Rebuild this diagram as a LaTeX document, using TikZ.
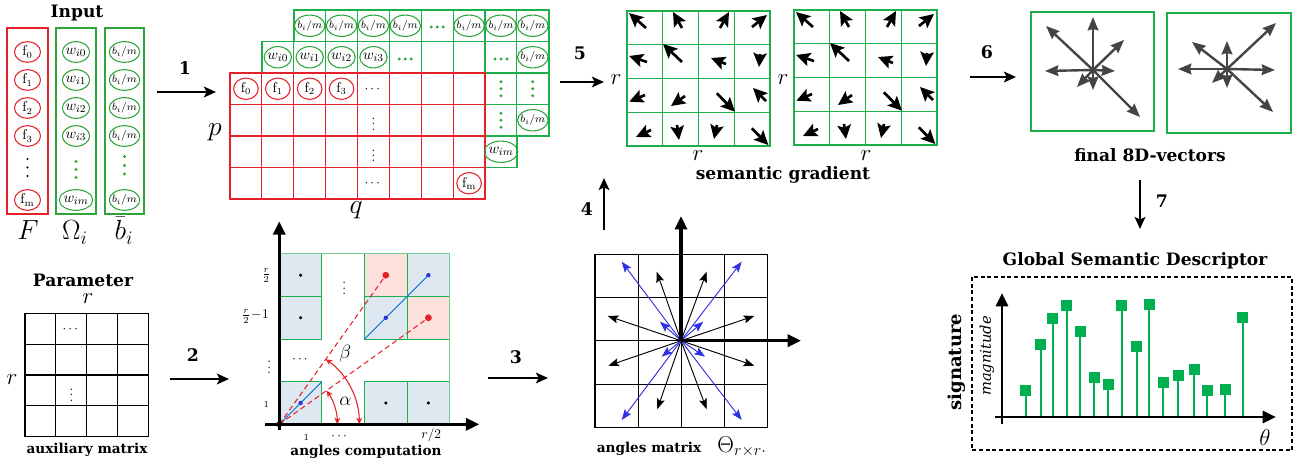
\documentclass[tikz,border=0pt]{standalone}
\usepackage{fontspec}
\usepackage{amsmath}
\usetikzlibrary{arrows.meta,shapes.geometric}
\newfontfamily\lblf{DejaVu Serif}
\definecolor{myred}{HTML}{E52129}
\definecolor{ingreen}{HTML}{2DA53A}
\definecolor{ggreen}{HTML}{1DAF4B}
\definecolor{sgreen}{HTML}{00B050}
\definecolor{lblue}{HTML}{DEE8F1}
\definecolor{lpink}{HTML}{FCE1DD}
\definecolor{dgray}{HTML}{444444}
\definecolor{vblue}{HTML}{3030E0}
\definecolor{lnblue}{HTML}{1F7BD6}
\newcommand\bim{$b_i/m$}
\tikzset{
 lab/.style={font=\lblf\bfseries\fontsize{12.8}{14}\selectfont, inner sep=0pt},
 slab/.style={font=\lblf\bfseries\fontsize{10.2}{11}\selectfont, inner sep=0pt},
 num/.style={font=\lblf\bfseries\fontsize{13}{15}\selectfont, inner sep=0pt},
 flow/.style={line width=1.8pt, -{Stealth[length=9pt,width=8pt,inset=2pt]}},
 rc/.style={ellipse, draw=myred, line width=0.8pt, minimum width=19.5pt, minimum height=15.5pt, inner sep=0pt, font=\fontsize{10.5}{12}\selectfont},
 gc/.style={ellipse, draw=ingreen, line width=0.8pt, minimum width=19.5pt, minimum height=15.5pt, inner sep=-0.5pt, font=\fontsize{11}{12}\selectfont},
 bc/.style={gc, inner sep=-1.2pt, font=\fontsize{8}{9}\selectfont},
 rcs/.style={rc, minimum width=18.5pt, minimum height=16pt},
 gcs/.style={gc, minimum width=18.5pt, minimum height=16pt},
 bcs/.style={bc, minimum width=18.5pt, minimum height=16pt},
 dts/.style={inner sep=0pt},
 gdot/.style={fill=ingreen},
 sga/.style={line width=2pt, -{Stealth[length=10.5pt,width=10pt,inset=2pt]}},
 vec/.style={dgray, line width=1.8pt, -{Stealth[length=10pt,width=8pt,inset=1pt]}},
 thin/.style={line width=0.7pt, -{Stealth[length=8pt,width=6pt,inset=1.5pt]}},
 axis/.style={line width=2.2pt, -{Triangle[length=10pt,width=9pt]}},
 big/.style={font=\fontsize{20}{24}\selectfont, inner sep=0pt},
 mid/.style={font=\fontsize{17}{20}\selectfont, inner sep=0pt},
}
\begin{document}
\begin{tikzpicture}[x=0.75pt,y=-0.75pt]
\useasboundingbox (0,0) rectangle (1298,466);

%% ---------------- INPUT
\node[lab] (tinput) at (77,13) {Input};
\draw[myred, line width=1.1pt] (7,28) rectangle (48,214);
\draw[ingreen, line width=1.1pt] (56,28) rectangle (96,214);
\draw[ingreen, line width=1.1pt] (105,28) rectangle (144,214);
\foreach \yy/\t/\n in {52/0/0,80/1/1,108/2/2,136/3/3,200/{\mathrm{m}}/m}{
  \node[rc] (F\n) at (27.5,\yy) {$\mathrm{f}_{\t}$};
  \node[gc] (W\n) at (76,\yy) {$w_{i\n}$};
  \node[bc] (B\n) at (124.5,\yy) {\bim};
}
\foreach \yy in {159,167.5,176} \fill (27.5,\yy) circle (1.1);
\foreach \yy in {161.5,169.5,177.5} \fill[gdot] (76,\yy) circle (1.7);
\foreach \yy in {156.5,165.5,174} \fill[gdot] (124.5,\yy) circle (1.7);
\node[big, anchor=base] (lF) at (28,240) {$F$};
\node[big, anchor=base] (lO) at (75,240) {$\Omega_i$};
\node[big, anchor=base] (lB) at (124,240) {$\bar{b}_i$};

%% arrow 1
\coordinate (a1s) at (157,92); \coordinate (a1e) at (216,92);
\draw[flow] (a1s) -- (a1e);
\node[num] (n1) at (185,68) {1};

%% ---------------- BIG MATRIX
\foreach \cc in {2,...,9} \draw[ggreen, line width=0.8pt] ({230+31.875*\cc},10) rectangle ++(31.875,31.5);
\foreach \cc in {1,...,9} \draw[ggreen, line width=0.8pt] ({230+31.875*\cc},41.5) rectangle ++(31.875,31.5);
\foreach \cc/\rr in {8/2,9/2,8/3,9/3,8/4} \draw[ggreen, line width=0.8pt] ({230+31.875*\cc},{10+31.5*\rr}) rectangle ++(31.875,31.5);
\draw[ggreen, line width=1.4pt] (293.75,10) -- (548.75,10) -- (548.75,136) -- (516.875,136) -- (516.875,167.5) -- (485,167.5) -- (485,73) -- (261.875,73) -- (261.875,41.5) -- (293.75,41.5) -- cycle;
\foreach \cc in {1,...,7} \draw[myred, line width=0.8pt] ({230+31.875*\cc},73) -- ++(0,126);
\foreach \rr in {3,4,5} \draw[myred, line width=0.8pt] (230,{10+31.5*\rr}) -- ++(255,0);
\draw[myred, line width=1.4pt] (230,73) rectangle (485,199);
% row 0
\foreach \cc in {2,3,4,5,7,8,9} \node[bcs] (M\cc-0) at ({230+31.875*(\cc+0.5)},25.75) {\bim};
\foreach \dx in {-6,0,6} \fill[gdot] ({437.2+\dx},27) circle (1.6);
% row 1
\foreach \cc/\kk in {1/0,2/1,3/2,4/3} \node[gcs] (M\cc-1) at ({230+31.875*(\cc+0.5)},57.25) {$w_{i\kk}$};
\foreach \dx in {-6,0,6} {\fill[gdot] ({405.3+\dx},59) circle (1.6); \fill[gdot] ({501+\dx},59) circle (1.6);}
\node[bcs] (M9-1) at (532.8,57.25) {\bim};
% row 2
\foreach \cc in {0,...,3} \node[rcs] (M\cc-2) at ({230+31.875*(\cc+0.5)},88.75) {$\mathrm{f}_{\cc}$};
\node[dts] (M4-2) at (373.4,90) {$\cdots$};
\foreach \dy in {-7,0,7} {\fill[gdot] (501,{88.75+\dy}) circle (1.6); \fill[gdot] (532.8,{88.75+\dy}) circle (1.6);}
% row 3
\node[dts] (M4-3) at (373.4,120.25) {$\vdots$};
\foreach \dy in {-7,0,7} \fill[gdot] (501,{120.25+\dy}) circle (1.6);
\node[bcs] (M9-3) at (532.8,120.25) {\bim};
% row 4
\node[dts] (M4-4) at (373.4,151.75) {$\vdots$};
\node[gcs] (M8-4) at (501,151.75) {$w_{im}$};
% row 5
\node[dts] (M4-5) at (373.4,184) {$\cdots$};
\node[rcs] (M7-5) at (469.1,183.25) {$\mathrm{f}_{\mathrm{m}}$};
\node[big, font=\fontsize{22}{24}\selectfont, anchor=base] (lp) at (215,136) {$p$};
\node[big, font=\fontsize{22}{24}\selectfont, anchor=base] (lq) at (356,214) {$q$};

%% ---------------- SEMANTIC GRADIENT
\coordinate (a5s) at (560,82); \coordinate (a5e) at (604,82);
\draw[flow] (a5s) -- (a5e);
\node[num] (n5) at (580,53) {5};
\foreach \ox/\oy/\nm in {627/11/sg1, 794/10/sg2}{
 \begin{scope}[shift={(\ox,\oy)}]
  \coordinate (\nm) at (0,0);
  \foreach \ii in {1,2,3} {\draw[ggreen, line width=0.8pt] ({35.75*\ii},0) -- ++(0,135); \draw[ggreen, line width=0.8pt] (0,{33.75*\ii}) -- ++(143,0);}
  \draw[ggreen, line width=2.2pt] (0,0) rectangle (143,135);
  \foreach \pa/\pb/\pc/\pd in {19/17/2/2, 55/17/46/1, 93/17/102/1, 125/16/140/4,
     20/51/2/45, 55/51/36/33, 99/53/84/47, 133/43/132/56,
     18/84/2.3/90.7, 58/85/44/95, 89.7/82.3/108/100.7, 139/90/126/77,
     24/119/9/126, 50/114/52/129, 90/114/87/128, 124.7/117.3/141.3/134}
   \draw[sga] (\pa,\pb) -- (\pc,\pd);
 \end{scope}}
\node[mid, anchor=base] (r1l) at (616,85) {$r$};
\node[mid, anchor=base] (r1b) at (698,161) {$r$};
\node[mid, anchor=base] (r2l) at (783,85) {$r$};
\node[mid, anchor=base] (r2b) at (866,161) {$r$};
\node[lab] (tsg) at (783,175) {semantic gradient};

%% ---------------- FINAL 8D VECTORS
\coordinate (a6s) at (970,77); \coordinate (a6e) at (1016,77);
\draw[flow] (a6s) -- (a6e);
\node[num] (n6) at (987,52) {6};
\draw[ggreen, line width=2.2pt] (1031,12) rectangle (1154,131);
\draw[ggreen, line width=2.2pt] (1167,13) rectangle (1291,133);
\coordinate (v1) at (1093,70);
\foreach \ex/\ey in {1093/17, 1046/26, 1124/40, 1045/71, 1115/71, 1140/117, 1093/90, 1077/87}
  \draw[vec] (v1) -- (\ex,\ey);
\coordinate (v2) at (1227,69);
\foreach \ex/\ey in {1227/41, 1192/42, 1276/23, 1178/69, 1275/70, 1273/112, 1227/88, 1212/83}
  \draw[vec] (v2) -- (\ex,\ey);
\node[lab] (tfv) at (1150,155) {final 8D-vectors};

%% arrow 7
\coordinate (a7s) at (1140,180); \coordinate (a7e) at (1140,229);
\draw[flow] (a7s) -- (a7e);
\node[num] (n7) at (1162,201) {7};

%% ---------------- GLOBAL SEMANTIC DESCRIPTOR
\node[lab] (tgsd) at (1135,261) {Global Semantic Descriptor};
\draw[line width=1pt, dash pattern=on 3pt off 2pt] (972,277) rectangle (1292,450);
\coordinate (o7) at (1002,417);
\coordinate (ytop) at (1002,293);
\coordinate (ybot) at (1002,424);
\coordinate (xl) at (995,417);
\coordinate (xr) at (1276,417);
\foreach \sx/\sy in {1025.7/390.7, 1040.7/344.3, 1052.7/318.7, 1066.7/305.3, 1080.3/331.7, 1094.3/377.7, 1108.3/384.7, 1121.7/305.3, 1136.7/346, 1149.3/304.3, 1163.3/382.7, 1178/375.7, 1194/369.3, 1207.3/390.7, 1225.3/389.7, 1242.7/318}{
  \draw[sgreen, line width=1.3pt] (\sx,417) -- (\sx,\sy);
  \fill[sgreen] ({\sx-5.5},{\sy-5.5}) rectangle ++(11,11);
}
\draw[axis] (ybot) -- (ytop);
\draw[axis] (xl) -- (xr);
\node[font=\fontsize{16}{18}\selectfont] (theta) at (1265,437) {$\theta$};
\node[lab, font=\lblf\bfseries\fontsize{13.5}{15}\selectfont, rotate=90] (tsig) at (957,362) {signature};
\node[font=\lblf\itshape\fontsize{11}{13}\selectfont, rotate=90, inner sep=0pt] (tmag) at (987,356) {magnitude};

%% ---------------- PARAMETER
\node[lab] (tpar) at (83,280) {Parameter};
\node[mid, font=\fontsize{19}{22}\selectfont, anchor=base] (pr1) at (88,304) {$r$};
\node[mid, font=\fontsize{19}{22}\selectfont, anchor=base] (pr2) at (12,384) {$r$};
\foreach \ii in {1,2,3} {\draw[line width=0.8pt] ({25+30.8*\ii},313.3) -- ++(0,123.4); \draw[line width=0.8pt] (25,{313.3+30.85*\ii}) -- ++(123.3,0);}
\draw[line width=1pt] (25,313.3) rectangle (148.3,436.7);
\node[dts] (pdots) at (71.4,330) {$\cdots$};
\node[dts] (pvdots) at (71.4,391) {$\vdots$};
\node[slab] (taux) at (87,450) {auxiliary matrix};

%% arrow 2
\coordinate (a2s) at (170,379); \coordinate (a2e) at (229,379);
\draw[flow] (a2s) -- (a2e);
\node[num] (n2) at (193,355) {2};

%% ---------------- ANGLES COMPUTATION
\begin{scope}[shift={(279.3,424.3)}, yscale=-1]
  \coordinate (ao) at (0,0);
  \def\cs{42.6}
  \foreach \ci/\cj in {0/3,0/2,0/0,2/0,3/0,3/3,2/2} \draw[ggreen, line width=0.8pt, fill=lblue] ({\ci*\cs},{\cj*\cs}) rectangle ++(\cs,\cs);
  \foreach \ci/\cj in {2/3,3/2} \draw[ggreen, line width=0.8pt, fill=lpink] ({\ci*\cs},{\cj*\cs}) rectangle ++(\cs,\cs);
  \draw[ggreen!60, line width=0.8pt] (0,0) rectangle (170.4,170.4);
  \foreach \ci/\cj in {0/3,0/2,2/0,3/0} \fill ({(\ci+0.5)*\cs},{(\cj+0.5)*\cs}) circle (1.7);
  \draw[lnblue, line width=0.9pt] (0,0) -- (42.6,42.6);
  \draw[lnblue, line width=0.9pt] (85.2,85.2) -- (149.1,149.1);
  \foreach \ci/\cj in {0/0,2/2,3/3} \fill[vblue] ({(\ci+0.5)*\cs},{(\cj+0.5)*\cs}) circle (2.2);
  \coordinate (rd1) at (106.5,149.1);
  \coordinate (rd2) at (149.1,106.5);
  \draw[myred, line width=0.8pt, dash pattern=on 4pt off 2.5pt] (ao) -- (rd1);
  \draw[myred, line width=0.8pt, dash pattern=on 4pt off 2.5pt] (ao) -- (rd2);
  \fill[myred] (rd1) circle (3.4);
  \fill[myred] (rd2) circle (3.4);
  \draw[myred, line width=0.8pt, {Stealth[length=5pt,width=4.5pt]}-{Stealth[length=5pt,width=4.5pt]}] (80,0) arc[start angle=0, end angle=54.5, radius=80];
  \draw[myred, line width=0.8pt, {Stealth[length=5pt,width=4.5pt]}-{Stealth[length=5pt,width=4.5pt]}] (58,0) arc[start angle=0, end angle=35.5, radius=58];
  \node[font=\fontsize{15}{17}\selectfont, inner sep=0pt] (lbeta) at (66,71) {$\beta$};
  \node[font=\fontsize{15}{17}\selectfont, inner sep=0pt] (lalpha) at (66,22.6) {$\alpha$};
  \coordinate (ayb) at (0,-6); \coordinate (ayt) at (0,203);
  \coordinate (axl) at (-14,0); \coordinate (axr) at (200,0);
  \draw[axis, line width=2.4pt] (ayb) -- (ayt);
  \draw[axis, line width=2.4pt] (axl) -- (axr);
  \fill (ao) circle (3);
  \node[font=\fontsize{10}{12}\selectfont, inner sep=0pt] (yl1) at (-13,149) {$\frac{r}{2}$};
  \node[font=\fontsize{10}{12}\selectfont, inner sep=0pt] (yl2) at (-24,108) {$\frac{r}{2}\!-\!1$};
  \node[font=\fontsize{7}{8}\selectfont, inner sep=0pt] (yl3) at (-13,20) {1};
  \node[dts] (yl4) at (-10,61) {$\vdots$};
  \node[font=\fontsize{7}{8}\selectfont, inner sep=0pt] (xl1) at (27,-13) {1};
  \node[dts] (xl2) at (61,-12) {$\cdots$};
  \node[font=\fontsize{10}{12}\selectfont, inner sep=0pt] (xl3) at (152,-11) {$r/2$};
  \node[dts] (pd1) at (65,140) {$\vdots$};
  \node[dts] (pd2) at (21.7,65) {$\cdots$};
\end{scope}
\node[slab] (tang) at (366,452) {angles computation};

%% arrow 3
\coordinate (a3s) at (488,378); \coordinate (a3e) at (548,378);
\draw[flow] (a3s) -- (a3e);
\node[num] (n3) at (516,357) {3};
%% arrow 4
\coordinate (a4s) at (604,230); \coordinate (a4e) at (604,178);
\draw[flow] (a4s) -- (a4e);
\node[num] (n4) at (587,209) {4};

%% ---------------- ANGLES MATRIX
\foreach \ii in {1,2,3} {\draw[line width=0.8pt] ({595+43.1*\ii},254.3) -- ++(0,173); \draw[line width=0.8pt] (595,{254.3+43.25*\ii}) -- ++(172.3,0);}
\draw[line width=1pt] (595,254.3) rectangle (767.3,427.3);
\coordinate (am) at (681,340.7);
\foreach \ex/\ey in {656.7/271.7, 706.7/271.7, 607.7/316, 754.3/316, 608.3/365.7, 754.3/365.7, 657.3/409.3, 706.7/409.3}
  \draw[thin] (am) -- (\ex,\ey);
\foreach \ex/\ey in {621.7/261.7, 741.7/261.7, 621.7/420, 741.7/420, 660/321.7, 703.3/321.7, 661.7/356.7, 705/356.7}
  \draw[thin, vblue] (am) -- (\ex,\ey);
\coordinate (amt) at (681,216); \coordinate (amr) at (801,340.7);
\draw[axis, line width=2.4pt] (am) -- (amt);
\draw[axis, line width=2.4pt] (am) -- (amr);
\node[slab, anchor=base] (tam) at (649,452) {angles matrix};
\node[font=\fontsize{17}{20}\selectfont, anchor=base, inner sep=0pt] (tth) at (742,452) {$\Theta_{r\times r\cdot}$};
\end{tikzpicture}
\end{document}
